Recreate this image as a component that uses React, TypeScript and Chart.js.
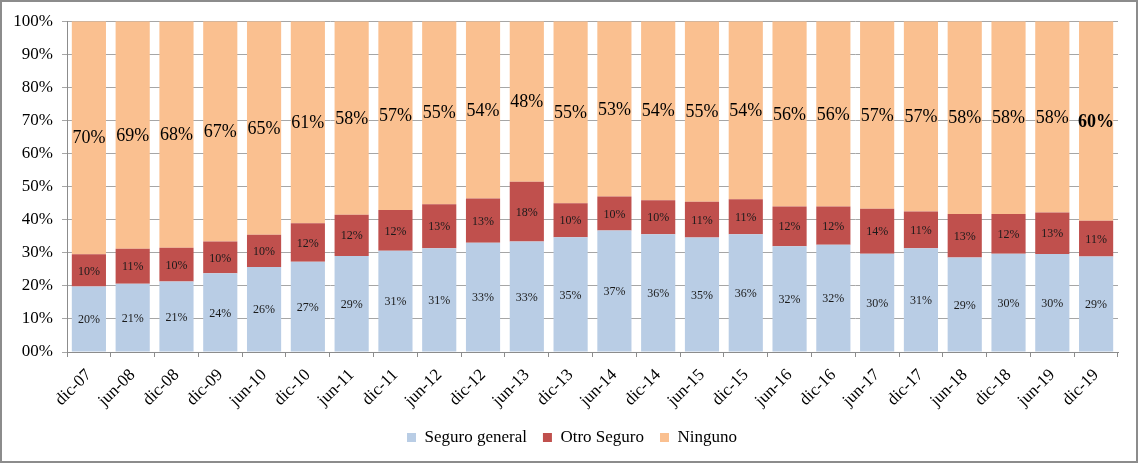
import React, { useEffect, useRef } from 'react';
import { Chart, registerables } from 'chart.js';

Chart.register(...registerables);

const categories = [
  'dic-07', 'jun-08', 'dic-08', 'dic-09', 'jun-10', 'dic-10', 'jun-11', 'dic-11',
  'jun-12', 'dic-12', 'jun-13', 'dic-13', 'jun-14', 'dic-14', 'jun-15', 'dic-15',
  'jun-16', 'dic-16', 'jun-17', 'dic-17', 'jun-18', 'dic-18', 'jun-19', 'dic-19',
];

const seguroGeneral = [
  19.8, 20.6, 21.3, 23.8, 25.7, 27.3, 29.0, 30.6,
  31.4, 33.0, 33.3, 34.7, 36.7, 35.6, 34.6, 35.6,
  32.0, 32.4, 29.7, 31.3, 28.6, 29.7, 29.6, 28.9,
];

const otroSeguro = [
  9.7, 10.6, 10.2, 9.6, 9.8, 11.6, 12.4, 12.3,
  13.3, 13.4, 18.1, 10.3, 10.3, 10.3, 10.8, 10.6,
  12.0, 11.6, 13.6, 11.1, 13.1, 12.0, 12.6, 10.8,
];

const ninguno = [
  70.4, 68.8, 68.4, 66.6, 64.6, 61.1, 58.4, 57.1,
  55.3, 53.6, 48.4, 55.0, 53.0, 54.1, 54.6, 53.8,
  56.0, 56.0, 56.7, 57.4, 58.3, 58.3, 57.8, 60.3,
];

const seriesNames = ['Seguro general', 'Otro Seguro', 'Ninguno'];
const seriesColors = ['#B9CDE5', '#C0504D', '#FAC090'];
const rawSeries = [seguroGeneral, otroSeguro, ninguno];

const FONT = '"Liberation Serif", "Times New Roman", serif';

const totals = categories.map((_, i) => rawSeries.reduce((s, arr) => s + arr[i], 0));
const normalized = rawSeries.map((arr) => arr.map((v, i) => (v / totals[i]) * 100));

const segLabels = {
  id: 'segLabels',
  afterDatasetsDraw(chart: any) {
    const ctx = chart.ctx;
    ctx.save();
    ctx.textAlign = 'center';
    ctx.textBaseline = 'middle';
    chart.data.datasets.forEach((_: any, di: number) => {
      const meta = chart.getDatasetMeta(di);
      meta.data.forEach((el: any, i: number) => {
        const text = Math.round(rawSeries[di][i]) + '%';
        const big = di === 2;
        const bold = big && i === categories.length - 1;
        ctx.font = `${bold ? 'bold ' : ''}${big ? 18 : 12}px ${FONT}`;
        ctx.fillStyle = big ? '#000000' : '#1a1a1a';
        ctx.fillText(text, el.x, (el.y + el.base) / 2 + 1);
      });
    });
    ctx.restore();
  },
};

const legendShift = {
  id: 'legendShift',
  afterLayout(chart: any) {
    if (chart.legend) {
      chart.legend.left += 12;
      chart.legend.right += 12;
    }
  },
};

export default function App() {
  const ref = useRef<HTMLCanvasElement>(null);

  useEffect(() => {
    if (!ref.current) return;
    const chart = new Chart(ref.current, {
      type: 'bar',
      data: {
        labels: categories,
        datasets: normalized.map((data, di) => ({
          label: seriesNames[di],
          data,
          backgroundColor: seriesColors[di],
          borderWidth: 0,
          barPercentage: 0.78,
          categoryPercentage: 1,
        })),
      },
      options: {
        responsive: false,
        animation: false,
        devicePixelRatio: 1,
        layout: { padding: { left: 0, right: 18, top: 16, bottom: 5 } },
        plugins: {
          tooltip: { enabled: false },
          legend: {
            position: 'bottom',
            labels: {
              boxWidth: 9,
              boxHeight: 9,
              padding: 16,
              color: '#000',
              font: { family: FONT, size: 17 },
            },
          },
        },
        scales: {
          x: {
            stacked: true,
            afterFit: (scale: any) => { scale.height = 61; },
            grid: {
              drawOnChartArea: false,
              drawTicks: true,
              offset: true,
              tickLength: 5,
              color: '#8c8c8c',
            },
            border: { color: '#8c8c8c', width: 1 },
            ticks: {
              minRotation: 45,
              maxRotation: 45,
              autoSkip: false,
              padding: 8,
              color: '#000',
              font: { family: FONT, size: 17 },
            },
          },
          y: {
            stacked: true,
            min: 0,
            max: 100,
            afterFit: (scale: any) => { scale.width = 65; },
            grid: {
              color: '#a6a6a6',
              tickLength: 5,
              drawTicks: true,
            },
            border: { color: '#8c8c8c', width: 1 },
            ticks: {
              stepSize: 10,
              padding: 9,
              color: '#000',
              font: { family: FONT, size: 17 },
              callback: (v: any) => (v === 0 ? '00%' : v + '%'),
            },
          },
        },
      },
      plugins: [segLabels, legendShift],
    });
    return () => chart.destroy();
  }, []);

  return (
    <div
      style={{
        position: 'absolute',
        left: 0,
        top: 0,
        width: 1138,
        height: 463,
        border: '2px solid #8c8c8c',
        boxSizing: 'border-box',
        background: '#fff',
      }}
    >
      <canvas ref={ref} width={1134} height={459} style={{ width: 1134, height: 459, display: 'block' }} />
    </div>
  );
}
